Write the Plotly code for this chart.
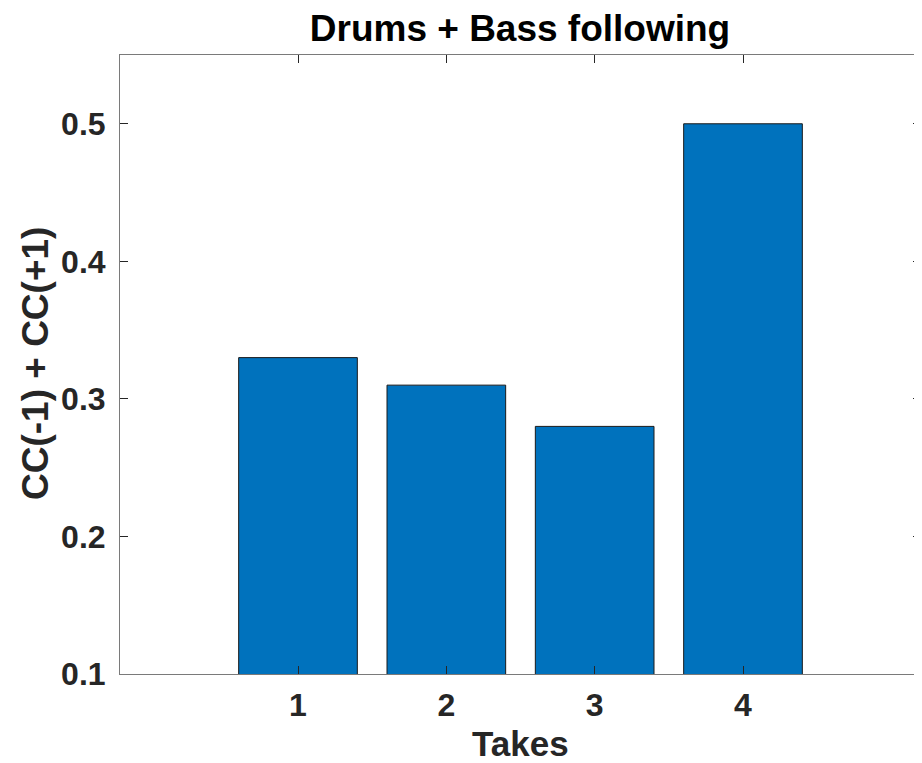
import plotly.graph_objects as go

takes = [1, 2, 3, 4]
values = [0.33, 0.31, 0.28, 0.50]
y_ticks = [0.1, 0.2, 0.3, 0.4, 0.5]
y_tick_labels = ["0.1", "0.2", "0.3", "0.4", "0.5"]

FONT = "Liberation Sans, Arial, Helvetica, sans-serif"
AX = "#262626"

W, H = 914, 755  # page body has an 8px margin
L, R, T, B = 112, 1, 47, 89
PW, PH = W - L - R, H - T - B

fig = go.Figure()
fig.add_trace(go.Bar(
    x=takes, y=values, width=0.8,
    marker=dict(color="#0072BD", line=dict(color="#1a1a1a", width=1)),
))

fig.update_layout(
    width=W, height=H,
    margin=dict(l=L, r=R, t=T, b=B),
    plot_bgcolor="white", paper_bgcolor="white",
    showlegend=False,
    title=dict(text="<b>Drums + Bass following</b>", x=512 / W, xanchor="center",
               y=1 - 20 / H, yanchor="middle", yref="container",
               font=dict(family=FONT, size=37, color="black")),
    font=dict(family=FONT, color=AX),
    annotations=[
        dict(text="<b>Takes</b>", xref="paper", yref="paper",
             x=(512 - L) / PW, y=-(735 - (H - B)) / PH,
             xanchor="center", yanchor="middle", showarrow=False,
             font=dict(family=FONT, size=35, color=AX)),
        dict(text="<b>CC(-1) + CC(+1)</b>", xref="paper", yref="paper",
             x=(27 - L) / PW, y=1 - (356 - T) / PH, textangle=-90,
             xanchor="center", yanchor="middle", showarrow=False,
             font=dict(family=FONT, size=37, color=AX)),
    ],
)
fig.update_xaxes(
    range=[-0.2, 5.2], tickvals=takes, ticktext=[f"<b>{t}</b>" for t in takes],
    ticks="inside", ticklen=8, tickcolor=AX, tickwidth=1,
    showline=True, linecolor="#7a7a7a", linewidth=1, mirror="ticks",
    showgrid=False, zeroline=False, ticklabelstandoff=3,
    tickfont=dict(family=FONT, size=32, color=AX),
)
fig.update_yaxes(
    range=[0.1, 0.55], tickvals=y_ticks, ticktext=[f"<b>{t}</b>" for t in y_tick_labels],
    ticks="inside", ticklen=8, tickcolor=AX, tickwidth=1,
    showline=True, linecolor="#7a7a7a", linewidth=1, mirror="ticks",
    showgrid=False, zeroline=False, ticklabelstandoff=7,
    tickfont=dict(family=FONT, size=32, color=AX),
)
fig.write_html("out.html")
